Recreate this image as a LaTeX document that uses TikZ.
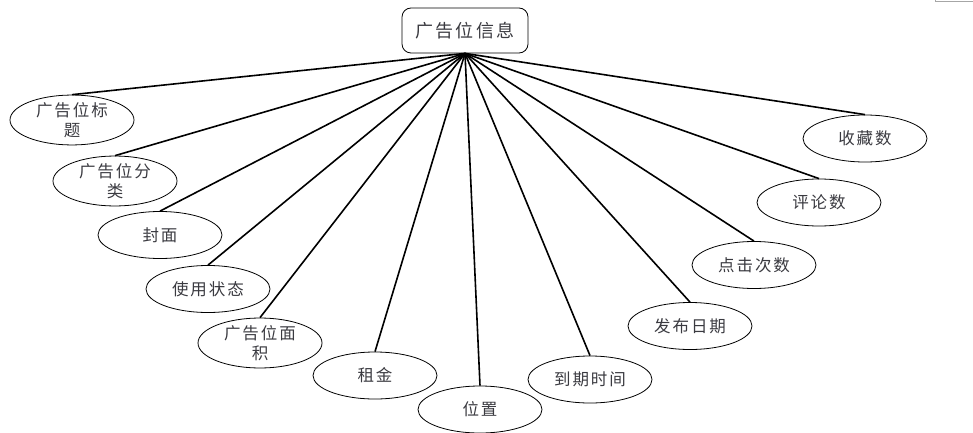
\documentclass[tikz,border=0pt]{standalone}
\usepackage{fontspec}
\newfontfamily\cjk[LetterSpace=12]{Noto Sans CJK SC}
\usetikzlibrary{shapes.geometric}
\definecolor{txt}{HTML}{3A3A40}
\tikzset{
  attr/.style={ellipse, draw, line width=0.8pt, minimum width=124pt, minimum height=47pt,
    inner sep=0pt, font=\cjk\fontsize{16.5}{20}\selectfont, text=txt, align=center},
  head/.style={draw, rounded corners=9pt, line width=0.8pt, minimum width=126pt, minimum height=45pt,
    inner sep=0pt, font=\cjk\fontsize{18}{22}\selectfont, text=txt},
  link/.style={line width=1.6pt}
}
\begin{document}
\begin{tikzpicture}[x=1pt,y=-1pt]
\useasboundingbox (0,0) rectangle (973,433);
\draw[gray!70, line width=1pt] (935,0) -- (935,2) -- (973,2);
\node[head] (top) at (465,30.5) {广告位信息};
\node[attr] (a1) at (72,120) {广告位标\\题};
\node[attr] (a2) at (115,181) {广告位分\\类};
\node[attr] (a3) at (160,235) {封面};
\node[attr] (a4) at (208,289) {使用状态};
\node[attr] (a5) at (260,343) {广告位面\\积};
\node[attr] (a6) at (375,375.5) {租金};
\node[attr] (a7) at (480,409.5) {位置};
\node[attr] (a8) at (590,379.5) {到期时间};
\node[attr] (a9) at (690,326) {发布日期};
\node[attr] (a10) at (754,265) {点击次数};
\node[attr] (a11) at (819,202.5) {评论数};
\node[attr] (a12) at (865,138.5) {收藏数};
\foreach \n in {a1,a2,a3,a4,a5,a6,a7,a8,a9,a10,a11,a12}
  \draw[link] (top.south) -- (\n.north);
\end{tikzpicture}
\end{document}
